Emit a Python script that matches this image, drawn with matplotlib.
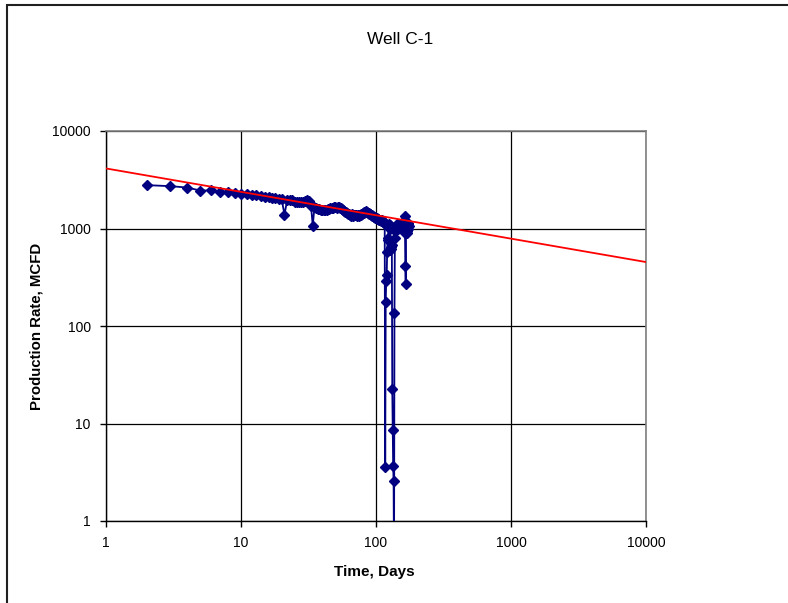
import matplotlib
matplotlib.use("Agg")
import matplotlib.pyplot as plt
from matplotlib.ticker import FixedLocator, NullLocator, FixedFormatter
from matplotlib.patches import Rectangle
import numpy as np

plt.rcParams['font.family'] = ['Liberation Sans', 'DejaVu Sans']

# ---- data ----
days = list(range(2, 176))
rates = [
    2785, 2718, 2630, 2450, 2460, 2370, 2360, 2300, 2270,            # 2-10
    2250, 2220, 2200, 2150, 2120, 2080, 2060, 2040, 2010, 2000,      # 11-20
    1385, 1980, 1960, 1950, 1890, 1860, 1850, 1850, 1880, 1920,      # 21-30
    1970, 1900, 1720, 1070, 1650, 1640, 1600, 1580, 1560, 1530,      # 31-40
    1540, 1550, 1560, 1580, 1600, 1620, 1630, 1640, 1650, 1650,      # 41-50
    1640, 1650, 1660, 1640, 1630, 1600, 1560, 1510, 1480, 1460,      # 51-60
    1440, 1420, 1400, 1370, 1350, 1400, 1380, 1350, 1380, 1390,      # 61-70
    1360, 1350, 1380, 1360, 1340, 1360, 1380, 1400, 1410, 1430,      # 71-80
    1450, 1470, 1490, 1510, 1480, 1460, 1450, 1440, 1420, 1410,      # 81-90
    1400, 1380, 1360, 1350, 1340, 1320, 1310, 1300, 1290, 1280,      # 91-100
    1270, 1260, 1250, 1240, 1230, 1220, 1230, 1210, 1200, 1210,      # 101-110
    1190, 1180, 1170, 1160, 1150, 1120, 3.6, 177, 287, 336,          # 111-120
    580, 770, 800, 1050, 1100, 1080, 1000, 600, 620, 650,            # 121-130
    680, 22.6, 8.5, 3.7, 2.6, 0.3, 136, 800, 950, 1000,              # 131-140
    1050, 1080, 1100, 1050, 1000, 1080, 1100, 1120, 1100, 1080,      # 141-150
    1100, 1120, 1100, 1090, 1110, 1100, 1080, 1100, 1120, 1150,      # 151-160
    1180, 1200, 1330, 900, 410, 270, 1000, 1100, 1050, 950,          # 161-170
    900, 1000, 1150, 1100, 1050,                                     # 171-175
]

# power-law trend line q = a * t^b
trend_a = 4130.0
trend_b = -0.24
trend_range = (1, 10000)

x_ticks = [1, 10, 100, 1000, 10000]
x_labels = ['1', '10', '100', '1000', '10000']
y_ticks = [1, 10, 100, 1000, 10000]
y_labels = ['1', '10', '100', '1000', '10000']

title = "Well C-1"
xlabel = "Time, Days"
ylabel = "Production Rate, MCFD"

# ---- figure ----
W, H = 788, 603
fig = plt.figure(figsize=(W / 100, H / 100), dpi=100)

# chart area border (only left/top visible)
fig.patches.append(Rectangle((7 / W, -0.05), 1.2, (H - 5) / H + 0.05,
                             transform=fig.transFigure, fill=False,
                             edgecolor='#202020', linewidth=1.5))

ax = fig.add_axes([106 / W, (H - 521) / H, 540 / W, 390 / H])
ax.set_xscale('log')
ax.set_yscale('log')
ax.set_xlim(1, 10000)
ax.set_ylim(1, 10000)

ax.xaxis.set_major_locator(FixedLocator(x_ticks))
ax.xaxis.set_major_formatter(FixedFormatter(x_labels))
ax.xaxis.set_minor_locator(NullLocator())
ax.yaxis.set_major_locator(FixedLocator(y_ticks))
ax.yaxis.set_major_formatter(FixedFormatter(y_labels))
ax.yaxis.set_minor_locator(NullLocator())

ax.grid(True, which='major', color='black', linewidth=0.9)
ax.set_axisbelow(True)

for s in ['top', 'right']:
    ax.spines[s].set_color('#808080')
    ax.spines[s].set_linewidth(1.2)
for s in ['left', 'bottom']:
    ax.spines[s].set_color('black')
    ax.spines[s].set_linewidth(1.0)

ax.tick_params(axis='both', direction='out', length=4, width=1,
               labelsize=10, colors='black', pad=7)

ax.plot(days, rates, color='#000080', linewidth=1.3, marker='D',
        markersize=4.8, markerfacecolor='#000080', markeredgecolor='#000080',
        zorder=3, clip_on=True)

tx = np.logspace(np.log10(trend_range[0]), np.log10(trend_range[1]), 200)
ax.plot(tx, trend_a * tx ** trend_b, color='red', linewidth=1.3, zorder=4)

fig.text(400 / W, 1 - 40 / H, title, ha='center', va='center', fontsize=12.5)
fig.text(374 / W, 1 - 572 / H, xlabel, ha='center', va='center',
         fontsize=11, fontweight='bold')
fig.text(37 / W, 1 - 326 / H, ylabel, ha='center', va='center',
         fontsize=10.8, fontweight='bold', rotation=90)

fig.savefig('out.png', dpi=100)
